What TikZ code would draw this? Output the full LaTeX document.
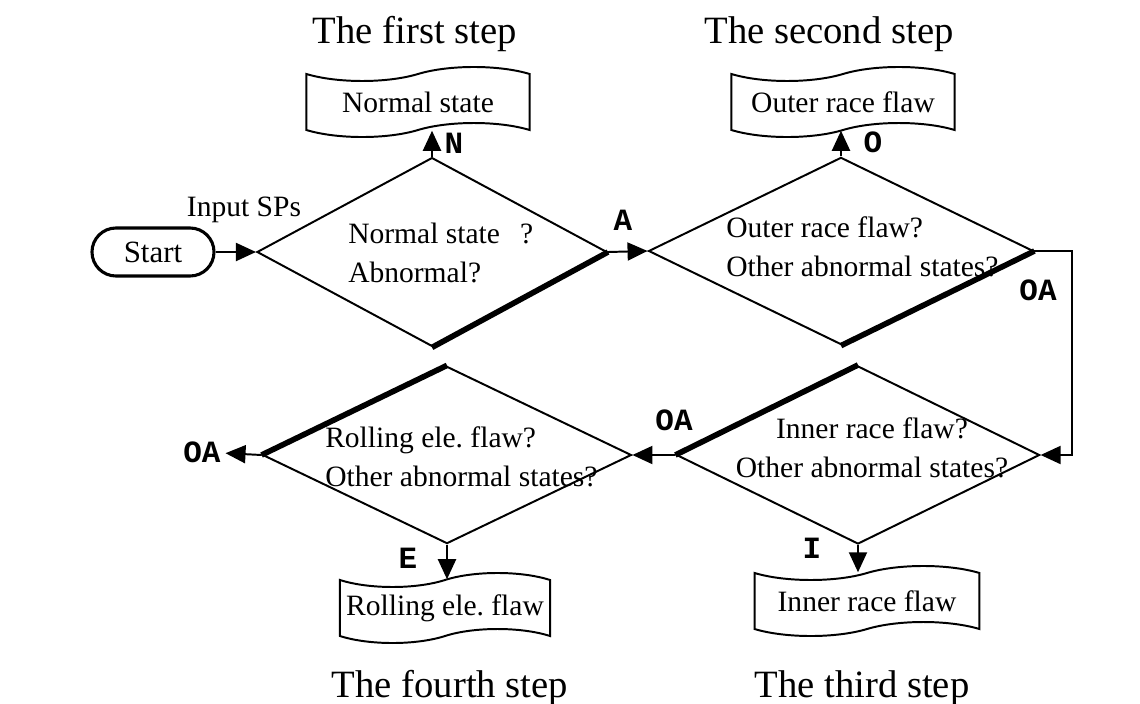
\documentclass[tikz,border=0pt]{standalone}
\usepackage{fontspec}
\setmainfont{Liberation Serif}
\newfontfamily\tagfont{Liberation Mono}
\usetikzlibrary{shapes.geometric,shapes.symbols,arrows.meta}

\begin{document}
\begin{tikzpicture}[x=0.025cm, y=-0.025cm,
    decision/.style={diamond, draw, line width=1.4pt, inner sep=0pt},
    question/.style={align=left, inner sep=0pt, font=\fontsize{21}{27.7}\selectfont},
    result/.style={tape, draw, line width=1.4pt, minimum height=1.75cm, tape bend height=0.35cm, font=\fontsize{21}{24}\selectfont},
    startbox/.style={rectangle, rounded corners=0.6cm, draw, line width=2.2pt, minimum width=3.05cm, minimum height=1.2cm, font=\fontsize{22}{24}\selectfont},
    tag/.style={font=\fontsize{22}{24}\selectfont\tagfont\bfseries},
    steptitle/.style={font=\fontsize{27.5}{30}\selectfont},
    flow/.style={-{Triangle[length=0.5cm, width=0.45cm]}, line width=1.4pt},
    heavy/.style={line width=4pt}]

    \useasboundingbox (0,0) rectangle (1140,704);

    \node [steptitle] (T1) at (415,34) {The first step};
    \node [steptitle] (T2) at (829,34) {The second step};
    \node [steptitle] (T3) at (862,688) {The third step};
    \node [steptitle] (T4) at (450,688) {The fourth step};

    \node [startbox] (S) at (153,252) {Start};
    \node [font=\fontsize{21}{24}\selectfont] (inp) at (244,210) {Input SPs};

    \node [decision, minimum width=8.75cm, minimum height=4.72cm] (D1) at (432,252) {};
    \node [decision, minimum width=9.62cm, minimum height=4.68cm] (D2) at (841,251) {};
    \node [decision, minimum width=9.08cm, minimum height=4.45cm] (D3) at (858,455) {};
    \node [decision, minimum width=9.22cm, minimum height=4.43cm] (D4) at (447,455) {};

    \node [question, anchor=west] (Q1) at (348,253) {Normal state\hspace{0.5cm}?\\Abnormal?};
    \node [question, anchor=west] (Q2) at (726,247) {Outer race flaw?\\Other abnormal states?};
    \node [question, align=center] (Q3) at (872,448) {Inner race flaw?\\Other abnormal states?};
    \node [question, anchor=west] (Q4) at (325,457) {Rolling ele.\ flaw?\\Other abnormal states?};

    \node [result, minimum width=5.58cm] (R1) at (418,102) {Normal state};
    \node [result, minimum width=5.58cm] (R2) at (843,102) {Outer race flaw};
    \node [result, minimum width=5.62cm] (R3) at (867,601) {Inner race flaw};
    \node [result, minimum width=5.25cm] (R4) at (445,608) {Rolling ele.\ flaw};

    \node [tag] (lN) at (454,143) {N};
    \node [tag] (lA) at (623,220) {A};
    \node [tag] (lO) at (873,142) {O};
    \node [tag] (lOA1) at (1038,290) {OA};
    \node [tag] (lOA2) at (674,420) {OA};
    \node [tag] (lOA3) at (202,452) {OA};
    \node [tag] (lE) at (408,558) {E};
    \node [tag] (lI) at (812,548) {I};

    \coordinate (bendA) at (1072,251);
    \coordinate (bendB) at (1072,455);

    \draw [heavy] (D1.east) -- (D1.south);
    \draw [heavy] (D2.east) -- (D2.south);
    \draw [heavy] (D3.west) -- (D3.north);
    \draw [heavy] (D4.west) -- (D4.north);

    \draw [flow] (S) -- (D1.west);
    \draw [flow] (D1.north) -- (D1.north |- R1.south);
    \draw [flow] (D1.east) -- (D2.west);
    \draw [flow] (D2.north) -- (D2.north |- R2.south);
    \draw [flow] (D2.east) -- (bendA) -- (bendB) -- (D3.east);
    \draw [flow] (D3.west) -- (D4.east);
    \draw [flow] (D4.west) -- (lOA3);
    \draw [flow] (D4.south) -- (D4.south |- R4.north);
    \draw [flow] (D3.south) -- (D3.south |- R3.north);

\end{tikzpicture}
\end{document}
